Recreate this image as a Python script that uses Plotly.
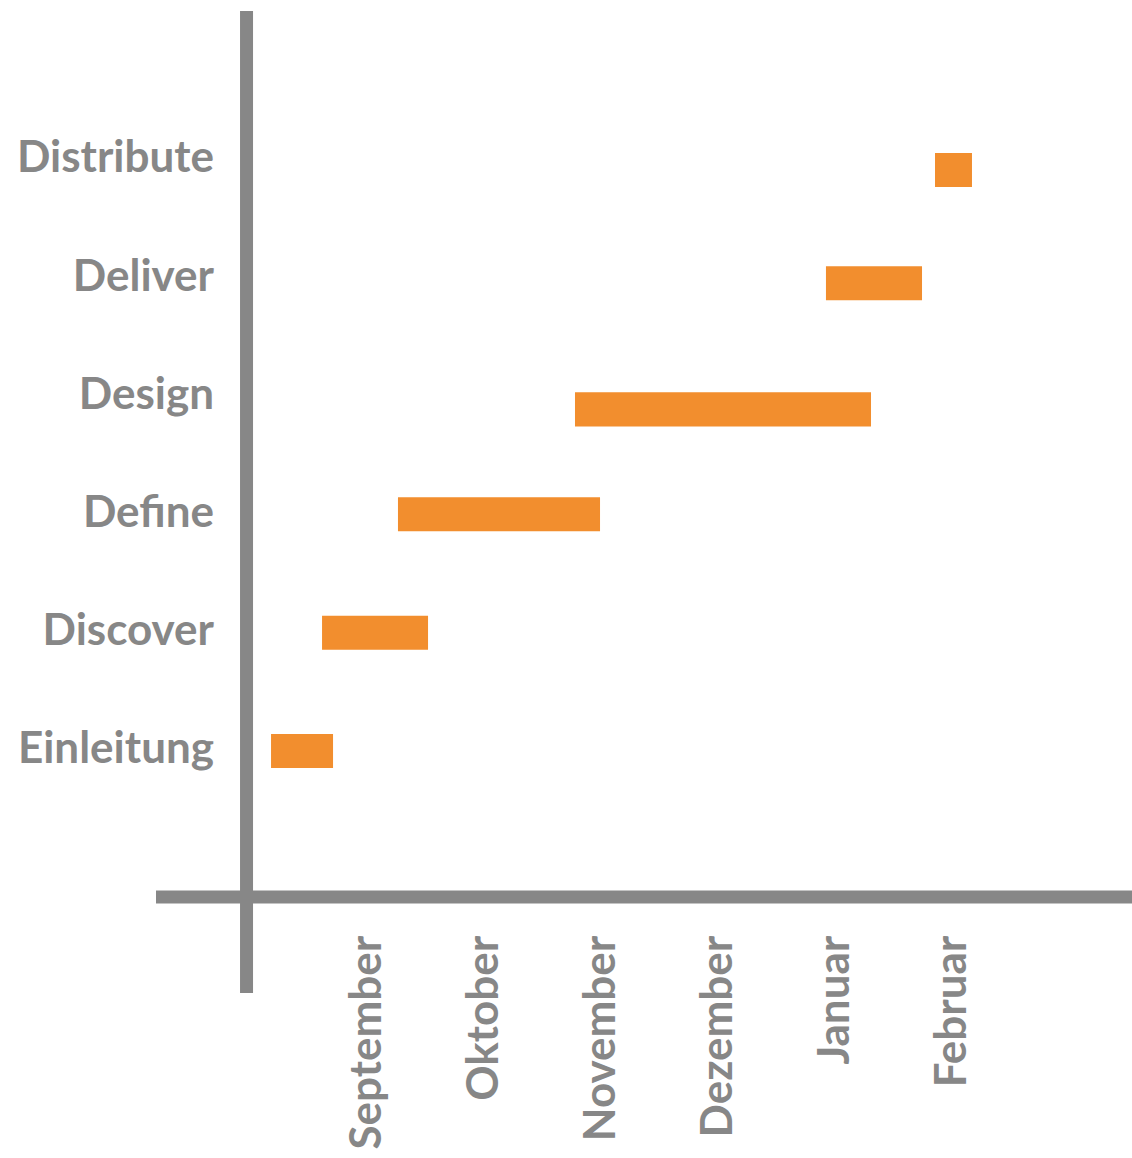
import plotly.graph_objects as go

# ---- data ----
phases = ["Einleitung", "Discover", "Define", "Design", "Deliver", "Distribute"]
start_month = [0.184, 0.620, 1.269, 2.782, 4.927, 5.859]   # 1 = September
end_month = [0.714, 1.526, 2.996, 5.312, 5.748, 6.175]
month_vals = [1, 2, 3, 4, 5, 6]
month_labels = ["September", "Oktober", "November", "Dezember", "Januar", "Februar"]

# ---- style ----
GRAY = "#878787"
ORANGE = "#F28E2E"
FONT = "Lato"
FSIZE = 44
bar_width = 0.288
bar_shift = [-0.025, -0.025, -0.023, -0.135, -0.068, -0.110]

W, H = 1132, 1158
L, R, T, B = 246, 0, 11, H - 897
plot_w = W - L - R
plot_h = H - T - B

durations = [e - s for s, e in zip(start_month, end_month)]

fig = go.Figure(
    go.Bar(
        y=phases,
        x=durations,
        base=start_month,
        orientation="h",
        marker=dict(color=ORANGE, line=dict(width=0)),
        width=bar_width,
        offset=[-bar_width / 2 + s for s in bar_shift],
        hoverinfo="skip",
    )
)

fig.update_layout(
    width=W,
    height=H,
    margin=dict(l=L, r=R, t=T, b=B, pad=0, autoexpand=False),
    paper_bgcolor="white",
    plot_bgcolor="white",
    showlegend=False,
    xaxis=dict(
        range=[-0.0299, 7.5427],
        tickvals=month_vals,
        ticktext=month_labels,
        tickangle=-90,
        showgrid=False,
        zeroline=False,
        showline=False,
        ticks="",
        automargin=False,
        ticklabelstandoff=29,
        tickfont=dict(family=FONT, size=FSIZE, color=GRAY, weight="bold"),
    ),
    yaxis=dict(
        type="category",
        categoryorder="array",
        categoryarray=phases,
        range=[-1.2606, 6.2352],
        showgrid=False,
        zeroline=False,
        showline=False,
        ticks="",
        automargin=False,
        ticklabelstandoff=31,
        tickfont=dict(family=FONT, size=FSIZE, color=GRAY, weight="bold"),
    ),
)

# cross-shaped axis lines
fig.add_shape(type="line", xref="paper", yref="paper",
              x0=0.0006, x1=0.0006, y0=(897 - 993) / plot_h, y1=1.0,
              line=dict(color=GRAY, width=13))
fig.add_shape(type="line", xref="paper", yref="paper",
              x0=(156 - L) / plot_w, x1=1.0, y0=0, y1=0,
              line=dict(color=GRAY, width=13))

fig.write_html("out.html", config={"displayModeBar": False},
               post_script="document.body.style.margin='0';")
